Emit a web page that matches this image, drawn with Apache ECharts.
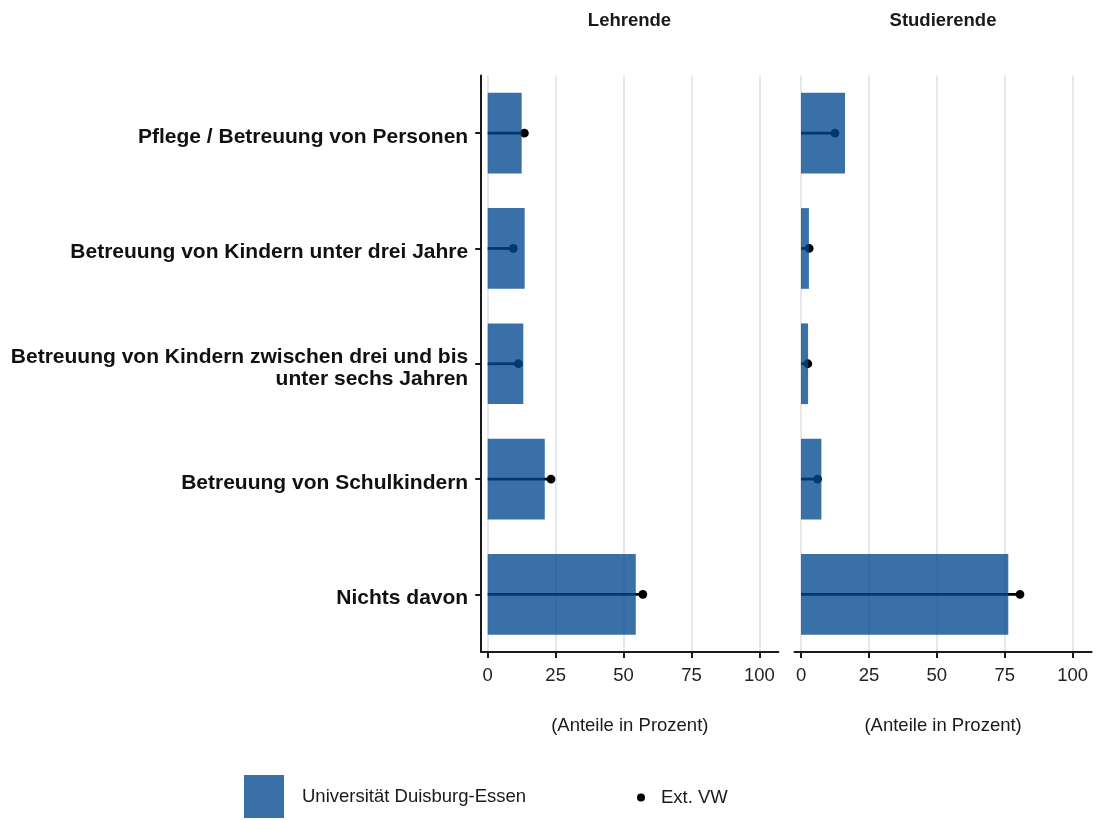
<!DOCTYPE html>
<html>
<head>
<meta charset="utf-8">
<script src="https://cdn.jsdelivr.net/npm/echarts@6/dist/echarts.min.js"></script>
<style>
html,body{margin:0;padding:0;background:#fff;}
#chart{width:1097px;height:820px;}
</style>
</head>
<body>
<div id="chart"></div>
<script>
var categories = [
  'Pflege / Betreuung von Personen',
  'Betreuung von Kindern unter drei Jahre',
  'Betreuung von Kindern zwischen drei und bis\nunter sechs Jahren',
  'Betreuung von Schulkindern',
  'Nichts davon'
];
var panelTitles = ['Lehrende', 'Studierende'];
var lehrendeUDE = [12.5, 13.6, 13.1, 21.0, 54.5];
var lehrendeVW  = [13.5, 9.4, 11.3, 23.3, 57.1];
var studUDE     = [16.2, 2.9, 2.6, 7.5, 76.3];
var studVW      = [12.5, 3.0, 2.5, 6.1, 80.6];
var xTicks = [0, 25, 50, 75, 100];
var seriesNames = ['Universität Duisburg-Essen', 'Ext. VW'];
var axisName = '(Anteile in Prozent)';

var FONT = 'Liberation Sans, Arial, sans-serif';
var BAR = 'rgba(3,72,144,0.78)';

function dotData(vals) {
  return vals.map(function (v, i) { return [v, categories[i]]; });
}
function renderDot(params, api) {
  var v = api.value(0);
  var c = api.value(1);
  var p0 = api.coord([0, c]);
  var p1 = api.coord([v, c]);
  return {
    type: 'group',
    children: [
      { type: 'line', shape: { x1: p0[0], y1: p0[1], x2: p1[0], y2: p1[1] }, style: { stroke: '#000', lineWidth: 2.8 } },
      { type: 'circle', shape: { cx: p1[0], cy: p1[1], r: 4.4 }, style: { fill: '#000' } }
    ]
  };
}
function xAxisCfg(idx) {
  return {
    type: 'value', gridIndex: idx, min: -2.4, max: 107,
    name: axisName, nameLocation: 'middle', nameGap: 64,
    nameTextStyle: { fontFamily: FONT, fontSize: 18.5, color: '#1a1a1a' },
    axisLine: { show: true, onZero: false, lineStyle: { color: '#1a1a1a', width: 2 } },
    axisTick: { show: true, length: 6, customValues: xTicks, lineStyle: { color: '#1a1a1a', width: 2 } },
    axisLabel: { customValues: xTicks, margin: 14, fontFamily: FONT, fontSize: 18.5, color: '#222' },
    splitLine: { show: true, lineStyle: { color: '#e3e3e3', width: 1.6 } }
  };
}
function catLabel(value) {
  return '{s|}\n' + value.split('\n').map(function (s) { return '{a|' + s + '}'; }).join('\n');
}

var option = {
  backgroundColor: '#fff',
  animation: false,
  title: [
    { text: panelTitles[0], left: 624.5, top: 6, textAlign: 'center',
      textStyle: { fontFamily: FONT, fontSize: 18.5, fontWeight: 'bold', color: '#1a1a1a' } },
    { text: panelTitles[1], left: 938, top: 6, textAlign: 'center',
      textStyle: { fontFamily: FONT, fontSize: 18.5, fontWeight: 'bold', color: '#1a1a1a' } }
  ],
  legend: [
    { left: 239, top: 770, itemWidth: 40, itemHeight: 43, icon: 'rect',
      data: [{ name: seriesNames[0], itemStyle: { color: BAR } }],
      textStyle: { fontFamily: FONT, fontSize: 18.5, color: '#1a1a1a', padding: [0, 0, 0, 13] } },
    { left: 632, top: 783, itemWidth: 8, itemHeight: 8, icon: 'circle',
      data: [{ name: seriesNames[1], itemStyle: { color: '#000' } }],
      textStyle: { fontFamily: FONT, fontSize: 18.5, color: '#1a1a1a', padding: [0, 0, 0, 11] } }
  ],
  grid: [
    { left: 481.2, right: 318.6, top: 75.5, bottom: 168 },
    { left: 794.5, right: 5.3, top: 75.5, bottom: 168 }
  ],
  xAxis: [xAxisCfg(0), xAxisCfg(1)],
  yAxis: [
    { type: 'category', gridIndex: 0, data: categories, inverse: true,
      axisLine: { show: true, onZero: false, lineStyle: { color: '#1a1a1a', width: 2 } },
      axisTick: { show: true, length: 6, alignWithLabel: true, lineStyle: { color: '#1a1a1a', width: 2 } },
      axisLabel: { margin: 13, align: 'right', formatter: catLabel,
        rich: {
          s: { fontSize: 1, lineHeight: 8, align: 'right' },
          a: { fontFamily: FONT, fontSize: 21, fontWeight: 'bold', color: '#111', lineHeight: 22, align: 'right' }
        } },
      splitLine: { show: false } },
    { type: 'category', gridIndex: 1, data: categories, inverse: true,
      axisLine: { show: false, onZero: false }, axisTick: { show: false }, axisLabel: { show: false }, splitLine: { show: false } }
  ],
  series: [
    { name: seriesNames[1], type: 'custom', xAxisIndex: 0, yAxisIndex: 0, z: 1,
      itemStyle: { color: '#000' }, renderItem: renderDot, data: dotData(lehrendeVW), encode: { x: 0, y: 1 } },
    { name: seriesNames[1], type: 'custom', xAxisIndex: 1, yAxisIndex: 1, z: 1,
      itemStyle: { color: '#000' }, renderItem: renderDot, data: dotData(studVW), encode: { x: 0, y: 1 } },
    { name: seriesNames[0], type: 'bar', xAxisIndex: 0, yAxisIndex: 0, z: 3,
      barWidth: '70%', itemStyle: { color: BAR }, data: lehrendeUDE },
    { name: seriesNames[0], type: 'bar', xAxisIndex: 1, yAxisIndex: 1, z: 3,
      barWidth: '70%', itemStyle: { color: BAR }, data: studUDE }
  ]
};

var chart = echarts.init(document.getElementById('chart'), null, { renderer: 'canvas' });
chart.setOption(option);
</script>
</body>
</html>
